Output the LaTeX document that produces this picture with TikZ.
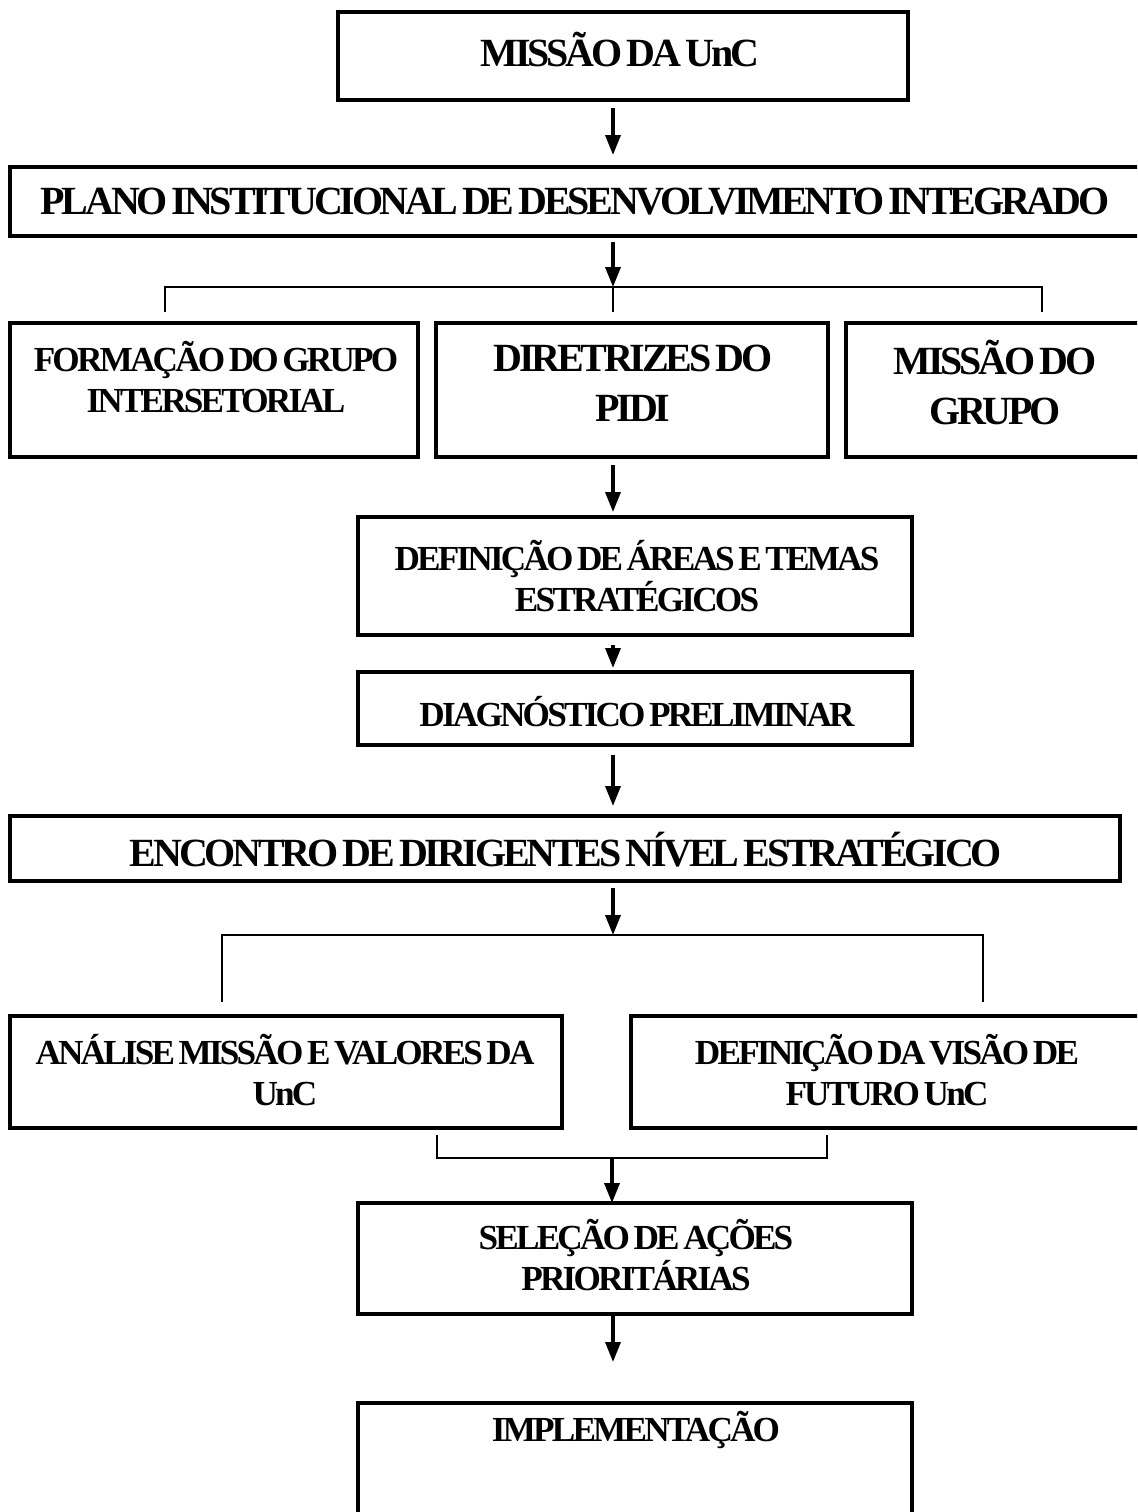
\documentclass[tikz,border=0pt]{standalone}
\usepackage{fontspec}
\setmainfont{Liberation Serif}[LetterSpace=-8, WordSpace=0.6]
\usetikzlibrary{arrows.meta,fit,calc}
\begin{document}
\begin{tikzpicture}[x=0.5pt,y=-0.5pt,
  box/.style={draw, line width=1.7pt, inner sep=0pt, outer sep=0pt},
  tbig/.style={inner sep=0pt, align=center, font=\bfseries\fontsize{20}{25}\selectfont},
  tsmall/.style={inner sep=0pt, align=center, font=\bfseries\fontsize{17.6}{20.5}\selectfont},
  arr/.style={line width=1.7pt, -{Triangle[width=7.5pt,length=10pt]}},
  brk/.style={line width=0.7pt}]
\useasboundingbox (0,0) rectangle (1137,1512);
\clip (0,0) rectangle (1137,1512);
\coordinate (ax) at (613,0);

% boxes
\node[box, fit={(338,12) (908,100)}] (b1) {};
\node[box, fit={(10,167) (1160,236)}] (b2) {};
\node[box, fit={(10,323) (418,457)}] (b3a) {};
\node[box, fit={(436,323) (828,457)}] (b3b) {};
\node[box, fit={(846,323) (1160,457)}] (b3c) {};
\node[box, fit={(358,517) (912,635)}] (b4) {};
\node[box, fit={(358,672) (912,745)}] (b5) {};
\node[box, fit={(10,816) (1120,881)}] (b6) {};
\node[box, fit={(10,1016) (562,1128)}] (b7a) {};
\node[box, fit={(631,1016) (1160,1128)}] (b7b) {};
\node[box, fit={(358,1203) (912,1314)}] (b8) {};
\node[box, fit={(358,1403) (912,1560)}] (b9) {};

% texts
\node[tbig] (t1) at (620,50) {MISSÃO DA UnC};
\node[tbig] (t2) at (575,202) {PLANO INSTITUCIONAL DE DESENVOLVIMENTO INTEGRADO};
\node[tsmall] (t3a) at (216,377) {FORMAÇÃO DO GRUPO\\INTERSETORIAL};
\node[tbig] (t3b) at (633,383) {DIRETRIZES DO\\PIDI};
\node[tbig] (t3c) at (995,383) {MISSÃO DO\\GRUPO};
\node[tsmall] (t4) at (637,576) {DEFINIÇÃO DE ÁREAS E TEMAS\\ESTRATÉGICOS};
\node[tsmall] (t5) at (637,712) {DIAGNÓSTICO PRELIMINAR};
\node[tbig] (t6) at (566,850) {ENCONTRO DE DIRIGENTES NÍVEL ESTRATÉGICO};
\node[tsmall] (t7a) at (285,1070) {ANÁLISE MISSÃO E VALORES DA\\UnC};
\node[tsmall] (t7b) at (887,1070) {DEFINIÇÃO DA VISÃO DE\\FUTURO UnC};
\node[tsmall] (t8) at (636,1255) {SELEÇÃO DE AÇÕES\\PRIORITÁRIAS};
\node[tsmall] (t9) at (636,1430) {IMPLEMENTAÇÃO};

% bracket coordinates
\coordinate (k1) at (613,287);
\coordinate (k1l) at (165,287);
\coordinate (k1r) at (1042,287);
\coordinate (k1le) at (165,312);
\coordinate (k1me) at (613,312);
\coordinate (k1re) at (1042,312);
\coordinate (k2) at (613,935);
\coordinate (k2l) at (222,935);
\coordinate (k2r) at (983,935);
\coordinate (k2le) at (222,1002);
\coordinate (k2re) at (983,1002);
\coordinate (k3) at (612,1158);
\coordinate (k3l) at (437,1158);
\coordinate (k3r) at (827,1158);
\coordinate (k3ls) at (437,1135);
\coordinate (k3rs) at (827,1135);
\coordinate (k4e) at (613,1362);

% connectors
\draw[arr, shorten <=4pt, shorten >=6pt] (b1.south -| ax) -- (b2.north -| ax);
\draw[arr, shorten <=3pt] (b2.south -| ax) -- (k1);
\draw[brk] (k1le) -- (k1l) -- (k1r) -- (k1re);
\draw[brk] (k1) -- (k1me);
\draw[arr, shorten <=4pt, shorten >=2.5pt] (b3b.south -| ax) -- (b4.north -| ax);
\draw[arr, shorten <=5pt, shorten >=2pt] (b4.south -| ax) -- (b5.north -| ax);
\draw[arr, shorten <=5pt, shorten >=5pt] (b5.south -| ax) -- (b6.north -| ax);
\draw[arr, shorten <=3.5pt] (b6.south -| ax) -- (k2);
\draw[brk] (k2le) -- (k2l) -- (k2r) -- (k2re);
\draw[brk] (k3ls) -- (k3l) -- (k3r) -- (k3rs);
\draw[arr] (k3) -- (b8.north -| k3);
\draw[arr] (b8.south -| ax) -- (k4e);
\end{tikzpicture}
\end{document}
